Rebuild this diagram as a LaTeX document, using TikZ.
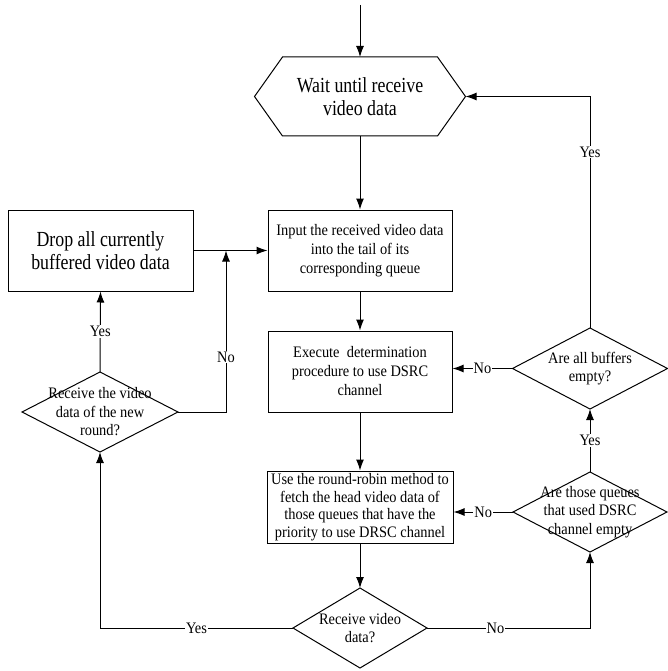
\documentclass[tikz,border=0pt]{standalone}
\usepackage{fontspec}
\setmainfont{Liberation Serif}
% narrow, tall serif faces for the step texts
\newfontfamily\widetextfont[FakeStretch=0.83]{Liberation Serif}
\newfontfamily\narrowtextfont[FakeStretch=0.9]{Liberation Serif}
\usetikzlibrary{arrows.meta}
\begin{document}
\begin{tikzpicture}[x=1pt,y=-1pt,
  line width=1pt,
  >={Latex[length=11pt,width=8pt]},
  box/.style={draw, rectangle, align=center, inner sep=2pt},
  frame/.style={rectangle, align=center, inner sep=0pt, outer sep=0pt},
  bigtext/.style={font=\widetextfont\fontsize{21.5}{22.5}\selectfont},
  steptext/.style={font=\narrowtextfont\fontsize{16}{19}\selectfont},
  densetext/.style={font=\narrowtextfont\fontsize{16}{17.5}\selectfont},
  asktext/.style={font=\narrowtextfont\fontsize{16}{18.5}\selectfont},
  lbl/.style={fill=white, inner sep=1pt, font=\narrowtextfont\fontsize{16}{17}\selectfont},
]
\path[use as bounding box] (0,0) rectangle (667,671);

% process steps
\node[frame, bigtext, minimum width=211pt, minimum height=79pt] (wait) at (360,96.5)
  {Wait until receive\\video data};
\node[box, steptext, minimum width=184pt, minimum height=81pt] (input) at (360,250.5)
  {Input the received video data\\into the tail of its\\corresponding queue};
\node[box, steptext, minimum width=184pt, minimum height=81pt] (exec) at (360,371.5)
  {Execute\ \ determination\\procedure to use DSRC\\channel};
\node[box, densetext, minimum width=186pt, minimum height=72pt] (rr) at (360,507)
  {Use the round-robin method to\\fetch the head video data of\\those queues that have the\\priority to use DRSC channel};
\node[box, bigtext, minimum width=185pt, minimum height=81pt] (drop) at (100.5,250.5)
  {Drop all currently\\buffered video data};

% decisions
\node[frame, asktext, minimum width=156pt, minimum height=80pt] (newr) at (100,412)
  {Receive the video\\data of the new\\round?};
\node[frame, asktext, minimum width=155pt, minimum height=81pt] (bufs) at (590,368.5)
  {Are all buffers\\empty?};
\node[frame, asktext, minimum width=154pt, minimum height=80pt] (queue) at (590,512)
  {Are those queues\\that used DSRC\\channel empty};
\node[frame, asktext, minimum width=134pt, minimum height=80pt] (recv) at (360,628)
  {Receive video\\data?};

% outlines of the hexagon and the diamonds
\draw (wait.west) -- ([xshift=28pt]wait.north west) -- ([xshift=-28pt]wait.north east)
  -- (wait.east) -- ([xshift=-28pt]wait.south east) -- ([xshift=28pt]wait.south west) -- cycle;
\foreach \d in {newr,bufs,queue,recv}
  \draw (\d.north) -- (\d.east) -- (\d.south) -- (\d.west) -- cycle;

% free line ends
\coordinate (start) at (360,5);
\coordinate (merge) at (226,250.5);

% connectors
\draw[->] (start) -- (wait.north);
\draw[->] (wait.south) -- (input.north);
\draw[->] (input.south) -- (exec.north);
\draw[->] (exec.south) -- (rr.north);
\draw[->] (rr.south) -- (recv.north);
\draw[->] (recv.west) -| node[lbl,pos=0.25]{Yes} (newr.south);
\draw[->] (recv.east) -| node[lbl,pos=0.21]{No} (queue.south);
\draw[->] (queue.west) -- node[lbl]{No} (queue.west -| rr.east);
\draw[->] (queue.north) -- node[lbl]{Yes} (bufs.south);
\draw[->] (bufs.west) -- node[lbl]{No} (bufs.west -| exec.east);
\draw[->] (bufs.north) |- node[lbl,pos=0.38]{Yes} (wait.east);
\draw[->] (newr.north) -- node[lbl]{Yes} (drop.south);
\draw[->] (newr.east) -| node[lbl,pos=0.67]{No} (merge);
\draw[->] (drop.east) -- (input.west);
\end{tikzpicture}
\end{document}
